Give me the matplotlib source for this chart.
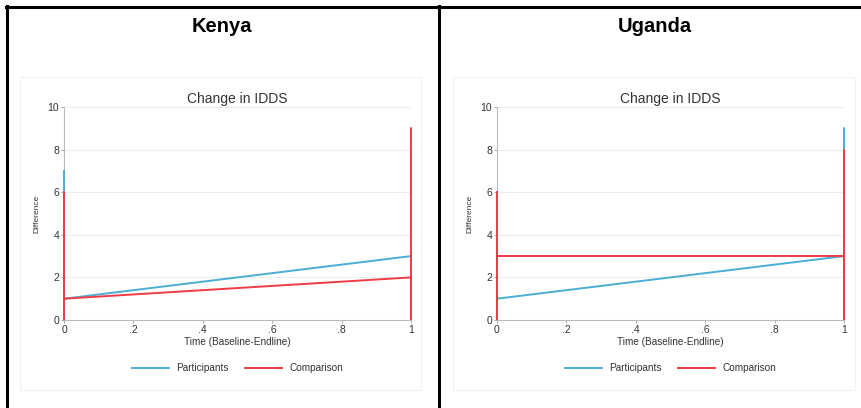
import matplotlib
matplotlib.use('Agg')
import matplotlib.pyplot as plt
from matplotlib.patches import Rectangle
from matplotlib.lines import Line2D

plt.rcParams['font.family'] = ['Liberation Sans', 'DejaVu Sans']

# ---- data ----
countries = ['Kenya', 'Uganda']
kenya_part_x = [0, 0, 1]
kenya_part_y = [7, 1, 3]
kenya_comp_x = [0, 0, 0, 1, 1, 1]
kenya_comp_y = [6, 0, 1, 2, 0, 9]
uganda_part_x = [0, 0, 1, 1]
uganda_part_y = [6, 1, 3, 9]
uganda_comp_x = [0, 0, 0, 1, 1, 1]
uganda_comp_y = [6, 0, 3, 3, 0, 8]
xticks = [0, 0.2, 0.4, 0.6, 0.8, 1]
xticklabels = ['0', '.2', '.4', '.6', '.8', '1']
yticks = [0, 2, 4, 6, 8, 10]
series_names = ['Participants', 'Comparison']

BLUE = '#4aaed6'
RED = '#f03c46'
W, H = 861, 408

fig = plt.figure(figsize=(W/100, H/100), dpi=100)

def px_axes(x0, y0, x1, y1, **kw):
    # pixel box (top-left origin) -> figure axes
    return fig.add_axes([x0/W, 1 - y1/H, (x1-x0)/W, (y1-y0)/H], **kw)

# table borders
bg = fig.add_axes([0, 0, 1, 1]); bg.set_xlim(0, W); bg.set_ylim(H, 0); bg.axis('off')
bg.plot([7, 7], [6, H], color='black', lw=2.2)
bg.plot([438.5, 438.5], [6, H], color='black', lw=2.2)
bg.plot([6, W], [7, 7], color='black', lw=2.2)

# inner chart image frames
for (x0, x1) in [(20, 421), (453, 855)]:
    bg.add_patch(Rectangle((x0, 77), x1-x0, 313, fill=False, ec='#eef2f2', lw=0.8))

panels = [
    (countries[0], 64, 411, 222, kenya_part_x, kenya_part_y, kenya_comp_x, kenya_comp_y),
    (countries[1], 497, 844, 655, uganda_part_x, uganda_part_y, uganda_comp_x, uganda_comp_y),
]
for name, ax0, ax1, tx, px, py, cx, cy in panels:
    bg.text(tx, 26, name, ha='center', va='center', fontsize=14.5, fontweight='bold')
    ax = px_axes(ax0, 107, ax1, 320)
    ax.plot(px, py, color=BLUE, lw=1.4, solid_joinstyle='miter', clip_on=False, zorder=3)
    ax.plot(cx, cy, color=RED, lw=1.4, solid_joinstyle='miter', clip_on=False, zorder=4)
    ax.set_xlim(0, 1); ax.set_ylim(0, 10)
    ax.set_xticks(xticks); ax.set_xticklabels(xticklabels)
    ax.set_yticks(yticks)
    ax.tick_params(labelsize=7.5, length=2, width=0.6, color='#999999', pad=1.5, labelcolor='#333333')
    ax.yaxis.grid(True, color='#e6f0f0', lw=0.7)
    ax.set_axisbelow(True)
    for s in ['top', 'right']:
        ax.spines[s].set_visible(False)
    for s in ['left', 'bottom']:
        ax.spines[s].set_color('#bbbbbb'); ax.spines[s].set_linewidth(0.8)
    ax.set_title('Change in IDDS', fontsize=10, color='#333333', pad=3)
    ax.set_xlabel('Time (Baseline-Endline)', fontsize=7.2, color='#333333', labelpad=1.5)
    ax.set_ylabel('Difference', fontsize=6, color='#333333', labelpad=5)
    handles = [Line2D([], [], color=BLUE, lw=1.4), Line2D([], [], color=RED, lw=1.4)]
    ax.legend(handles, series_names, loc='upper center', bbox_to_anchor=(0.5, -0.16),
              ncol=2, frameon=False, fontsize=7.2, handlelength=3.7, columnspacing=1.7,
              handletextpad=0.7, labelcolor='#333333')

fig.savefig('out.png', dpi=100, facecolor='white')
